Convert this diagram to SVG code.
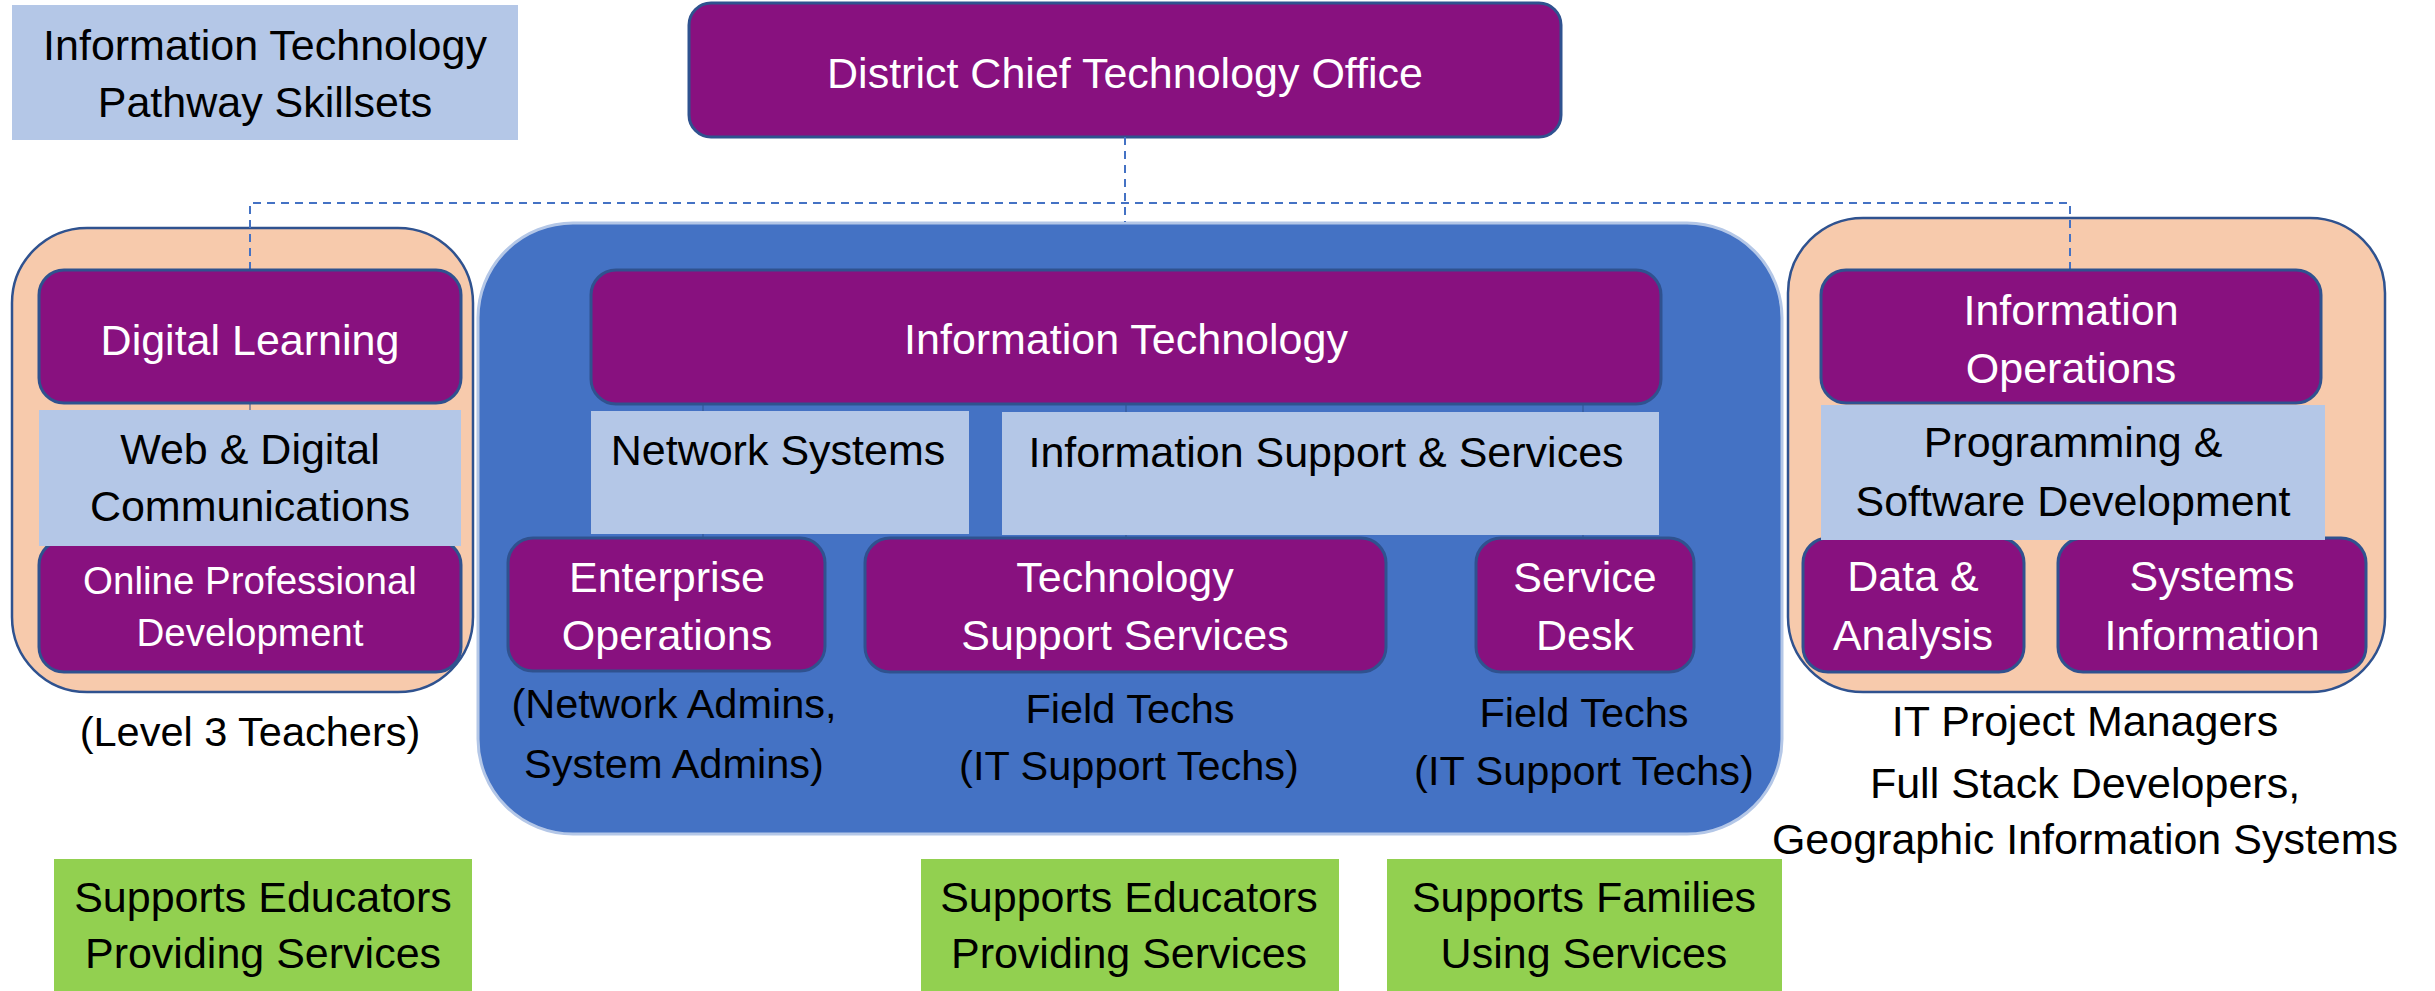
<svg xmlns="http://www.w3.org/2000/svg" width="2435" height="991" viewBox="0 0 2435 991">
<style>
text{font-family:"Liberation Sans",Arial,sans-serif;font-size:43px;text-anchor:middle}
.w{fill:#ffffff}
.k{fill:#000000}
.pu{fill:#88117F;stroke:#2F528F;stroke-width:3}
.lb{fill:#B4C7E7}
.gr{fill:#92D050}
.pe{fill:#F7CAAC;stroke:#2F528F;stroke-width:2.5}
.bl{fill:#4472C4;stroke:#B4C7E7;stroke-width:3}
.dash{fill:none;stroke:#4472C4;stroke-width:2;stroke-dasharray:8 6}
.thin{fill:none;stroke:#2F528F;stroke-width:1}
.sm{font-size:38.5px}
.pa{font-size:41.5px}
</style>

<g id="title">
<rect class="lb" x="12" y="5" width="506" height="135"/>
<text class="k" x="265" y="60">Information Technology</text>
<text class="k" x="265" y="117">Pathway Skillsets</text>
</g>

<g id="dcto">
<rect class="pu" x="689" y="3" width="872" height="134" rx="22"/>
<text class="w" x="1125" y="88">District Chief Technology Office</text>
</g>

<g id="container-left"><rect class="pe" x="12" y="228" width="461" height="464" rx="75"/></g>
<g id="container-center"><rect class="bl" x="478" y="223" width="1304" height="611" rx="95"/></g>
<g id="container-right"><rect class="pe" x="1788" y="218" width="597" height="474" rx="75"/></g>

<g id="connectors">
<path class="dash" d="M1125 137 V222"/>
<path class="dash" d="M250 270 V203 H2070 V270"/>
<path class="thin" d="M250 403 V410 M703 404 V538 M1126 404 V538 M1583 404 V538"/>
</g>

<g id="digital-learning">
<rect class="pu" x="39" y="270" width="422" height="133" rx="25"/>
<text class="w" x="250" y="355">Digital Learning</text>
</g>
<g id="online-pd">
<rect class="pu" x="39" y="540" width="422" height="132" rx="25"/>
<text class="w sm" x="250" y="594">Online Professional</text>
<text class="w sm" x="250" y="646">Development</text>
</g>
<g id="web-digital">
<rect class="lb" x="39" y="410" width="422" height="136"/>
<text class="k" x="250" y="464">Web &amp; Digital</text>
<text class="k" x="250" y="521">Communications</text>
</g>
<g id="level3"><text class="k pa" x="250" y="746">(Level 3 Teachers)</text></g>
<g id="green-left">
<rect class="gr" x="54" y="859" width="418" height="132"/>
<text class="k" x="263" y="912">Supports Educators</text>
<text class="k" x="263" y="968">Providing Services</text>
</g>

<g id="information-technology">
<rect class="pu" x="591" y="270" width="1070" height="134" rx="25"/>
<text class="w" x="1126" y="354">Information Technology</text>
</g>
<g id="network-systems">
<rect class="lb" x="591" y="411" width="378" height="123"/>
<text class="k" x="778" y="465">Network Systems</text>
</g>
<g id="info-support">
<rect class="lb" x="1002" y="412" width="657" height="123"/>
<text class="k" x="1326" y="467">Information Support &amp; Services</text>
</g>
<g id="enterprise-ops">
<rect class="pu" x="508" y="538" width="317" height="133" rx="25"/>
<text class="w" x="667" y="592">Enterprise</text>
<text class="w" x="667" y="650">Operations</text>
<text class="k pa" x="674" y="718">(Network Admins,</text>
<text class="k pa" x="674" y="778">System Admins)</text>
</g>
<g id="tech-support">
<rect class="pu" x="865" y="538" width="521" height="134" rx="25"/>
<text class="w" x="1125" y="592">Technology</text>
<text class="w" x="1125" y="650">Support Services</text>
<text class="k pa" x="1130" y="723">Field Techs</text>
<text class="k pa" x="1129" y="780">(IT Support Techs)</text>
</g>
<g id="service-desk">
<rect class="pu" x="1476" y="538" width="218" height="134" rx="25"/>
<text class="w" x="1585" y="592">Service</text>
<text class="w" x="1585" y="650">Desk</text>
<text class="k pa" x="1584" y="727">Field Techs</text>
<text class="k pa" x="1584" y="785">(IT Support Techs)</text>
</g>
<g id="green-center">
<rect class="gr" x="921" y="859" width="418" height="132"/>
<text class="k" x="1129" y="912">Supports Educators</text>
<text class="k" x="1129" y="968">Providing Services</text>
</g>
<g id="green-right">
<rect class="gr" x="1387" y="859" width="395" height="132"/>
<text class="k" x="1584" y="912">Supports Families</text>
<text class="k" x="1584" y="968">Using Services</text>
</g>

<g id="information-operations">
<rect class="pu" x="1821" y="270" width="500" height="133" rx="25"/>
<text class="w" x="2071" y="325">Information</text>
<text class="w" x="2071" y="383">Operations</text>
</g>
<g id="data-analysis">
<rect class="pu" x="1803" y="538" width="221" height="134" rx="25"/>
<text class="w" x="1913" y="591">Data &amp;</text>
<text class="w" x="1913" y="650">Analysis</text>
</g>
<g id="systems-information">
<rect class="pu" x="2058" y="538" width="308" height="134" rx="25"/>
<text class="w" x="2212" y="591">Systems</text>
<text class="w" x="2212" y="650">Information</text>
</g>
<g id="programming">
<rect class="lb" x="1821" y="405" width="504" height="135"/>
<text class="k" x="2073" y="457">Programming &amp;</text>
<text class="k" x="2073" y="516">Software Development</text>
</g>
<g id="roles-right">
<text class="k" x="2085" y="736">IT Project Managers</text>
<text class="k" x="2085" y="798">Full Stack Developers,</text>
<text class="k" x="2085" y="854">Geographic Information Systems</text>
</g>
</svg>
